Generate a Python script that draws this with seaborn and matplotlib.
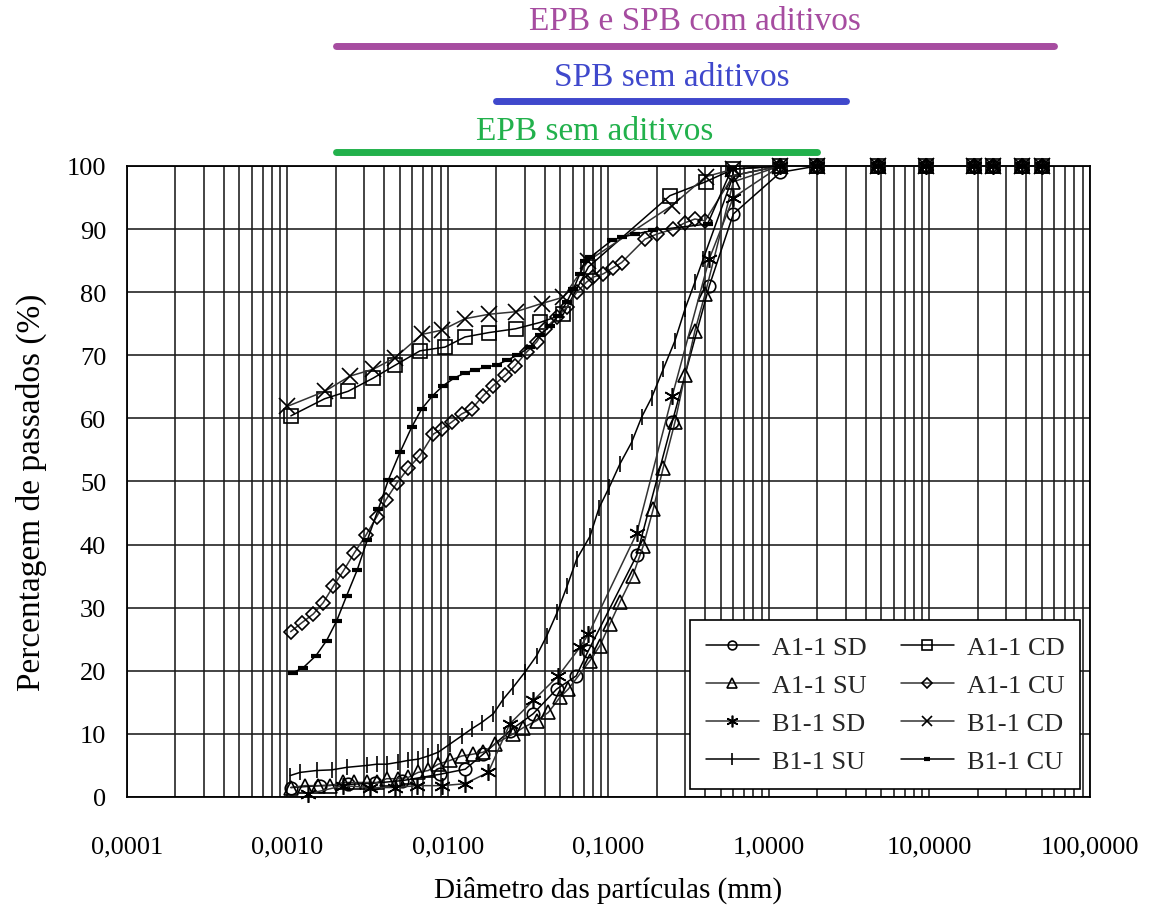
import matplotlib
matplotlib.use("Agg")
import matplotlib.pyplot as plt
import matplotlib.ticker as mticker
import matplotlib.transforms as mtransforms
import numpy as np
import pandas as pd
import seaborn as sns

# ---------------- data (diameter in mm, percentage passing) ----------------
a1_sd_d = [0.00105, 0.0016, 0.0024, 0.0035, 0.0052, 0.0089, 0.0128, 0.0166, 0.0243, 0.034,
           0.0476, 0.063, 0.075, 0.15, 0.25, 0.425, 0.6, 1.18, 2.0, 4.75, 9.5, 19.0, 25.0, 37.5, 50.0]
a1_sd_p = [1.5, 1.8, 2.0, 2.2, 2.6, 3.6, 4.4, 6.8, 10.5, 13.2,
           17.1, 19.2, 23.2, 38.3, 59.5, 81.0, 92.4, 99.0, 100, 100, 100, 100, 100, 100, 100]

a1_su_d = [0.00105, 0.00129, 0.00156, 0.00184, 0.00223, 0.0026, 0.00312, 0.0036, 0.00415, 0.0049,
           0.00566, 0.00653, 0.00754, 0.0087, 0.0103, 0.0122, 0.0144, 0.0166, 0.0196, 0.0255,
           0.0295, 0.0357, 0.0422, 0.0499, 0.0562, 0.0767, 0.0885, 0.102, 0.118, 0.1415,
           0.1647, 0.190, 0.2195, 0.2596, 0.2996, 0.3458, 0.40, 0.6, 1.18, 2.0,
           4.75, 9.5, 19.0, 25.0, 37.5, 50.0]
a1_su_p = [1.5, 1.8, 1.8, 1.8, 2.3, 2.3, 2.3, 2.3, 2.9, 2.9,
           3.1, 3.9, 4.2, 5.2, 5.8, 6.5, 6.8, 7.1, 8.4, 10.0,
           11.0, 12.1, 13.4, 15.8, 17.1, 21.6, 24.0, 27.4, 30.9, 35.0,
           39.8, 45.6, 52.2, 59.4, 66.8, 73.9, 79.7, 97.5, 100, 100,
           100, 100, 100, 100, 100, 100]

b1_sd_d = [0.00135, 0.00223, 0.00327, 0.00467, 0.00638, 0.00913, 0.01276, 0.01783, 0.0243, 0.034,
           0.0487, 0.0664, 0.075, 0.15, 0.25, 0.425, 0.6, 1.18, 2.0, 4.75, 9.5, 19.0, 25.0, 37.5, 50.0]
b1_sd_p = [0.5, 1.8, 1.5, 1.5, 1.8, 1.8, 2.1, 3.9, 11.6, 15.3,
           19.2, 23.7, 25.8, 41.8, 63.6, 85.3, 95.0, 100, 100, 100, 100, 100, 100, 100, 100]

b1_su_d = [0.00104, 0.0012, 0.00152, 0.00189, 0.00234, 0.00312, 0.0036, 0.00415, 0.0049, 0.00566,
           0.00653, 0.00754, 0.0087, 0.0103, 0.0122, 0.01405, 0.0162, 0.0192, 0.0221, 0.0255,
           0.0302, 0.0357, 0.0412, 0.048, 0.0554, 0.0634, 0.0767, 0.0873, 0.1012, 0.118,
           0.1394, 0.161, 0.1859, 0.2195, 0.2596, 0.2996, 0.3458, 0.39, 0.6, 1.18,
           2.0, 4.75, 9.5, 19.0, 25.0, 37.5, 50.0]
b1_su_p = [3.4, 3.9, 4.2, 4.3, 4.7, 5.0, 5.2, 5.2, 5.5, 5.8,
           6.0, 6.5, 7.1, 8.4, 9.7, 10.8, 11.8, 13.2, 15.5, 17.4,
           19.8, 22.4, 25.5, 29.3, 33.5, 37.7, 41.3, 45.8, 49.1, 52.8,
           56.2, 60.2, 63.3, 67.8, 72.3, 77.3, 81.6, 85.3, 98.5, 100,
           100, 100, 100, 100, 100, 100, 100]

a1_cd_d = [0.00105, 0.0017, 0.00239, 0.00343, 0.00467, 0.00669, 0.00958, 0.01276, 0.018, 0.0264,
           0.0374, 0.0523, 0.075, 0.2416, 0.4035, 0.6, 1.18, 2.0, 4.75, 9.5, 19.0, 25.0, 37.5, 50.0]
a1_cd_p = [60.4, 63.1, 64.3, 66.4, 68.4, 70.7, 71.3, 72.9, 73.6, 74.2,
           75.2, 76.5, 84.0, 95.3, 97.5, 99.5, 100, 100, 100, 100, 100, 100, 100, 100]

a1_cu_d = [0.001047, 0.001226, 0.001448, 0.001671, 0.001929, 0.002227, 0.002597, 0.003084, 0.003596, 0.004109,
           0.00479, 0.00566, 0.00669, 0.0081, 0.00913, 0.01054, 0.01217, 0.01405, 0.0166, 0.01915,
           0.02265, 0.02615, 0.0309, 0.0357, 0.0402, 0.0476, 0.0549, 0.0634, 0.0731, 0.0804,
           0.0928, 0.1071, 0.1208, 0.1688, 0.1997, 0.2533, 0.2996, 0.3458, 0.3993, 0.6,
           1.18, 2.0, 4.75, 9.5, 19.0, 25.0, 37.5, 50.0]
a1_cu_p = [26.2, 27.6, 29.0, 30.8, 33.4, 35.8, 38.6, 41.5, 44.4, 47.1,
           49.7, 52.1, 54.1, 57.5, 58.3, 59.4, 60.7, 61.5, 63.6, 65.2,
           66.8, 68.3, 70.5, 72.1, 74.2, 76.0, 77.6, 80.0, 81.6, 82.4,
           82.9, 83.9, 84.7, 88.4, 89.2, 90.0, 91.0, 91.6, 91.3, 98.5,
           100, 100, 100, 100, 100, 100, 100, 100]

b1_cd_d = [0.000997, 0.00171, 0.00245, 0.00343, 0.00467, 0.00686, 0.00921, 0.01276, 0.018, 0.0264,
           0.0383, 0.0523, 0.075, 0.2477, 0.4035, 0.6, 1.18, 2.0, 4.75, 9.5, 19.0, 25.0, 37.5, 50.0]
b1_cd_p = [61.9, 64.3, 66.7, 67.8, 69.6, 73.3, 74.0, 75.8, 76.5, 76.9,
           78.2, 79.2, 85.0, 93.7, 98.3, 99.5, 100, 100, 100, 100, 100, 100, 100, 100]

b1_cu_d = [0.001087, 0.001254, 0.001505, 0.001754, 0.002025, 0.002338, 0.002722, 0.003142, 0.003679, 0.004246,
           0.005022, 0.005939, 0.006858, 0.008029, 0.00935, 0.01095, 0.01276, 0.01473, 0.01725, 0.0202,
           0.0233, 0.027, 0.0324, 0.0374, 0.0432, 0.0487, 0.0549, 0.0604, 0.0664, 0.0714,
           0.0767, 0.1047, 0.1208, 0.1463, 0.1901, 0.4143, 0.5857, 1.18, 2.0, 4.75,
           9.5, 19.0, 25.0, 37.5, 50.0]
b1_cu_p = [19.7, 20.5, 22.4, 24.8, 27.9, 31.9, 36.0, 40.7, 45.6, 50.2,
           54.6, 58.6, 61.5, 63.6, 65.2, 66.4, 67.2, 67.7, 68.1, 68.5,
           69.2, 70.0, 71.3, 73.2, 74.6, 76.3, 78.4, 80.5, 82.9, 85.0,
           85.5, 88.2, 88.7, 89.2, 89.8, 90.8, 99.5, 100, 100, 100,
           100, 100, 100, 100, 100]

series_names = ["A1-1 SD", "A1-1 SU", "B1-1 SD", "B1-1 SU",
                "A1-1 CD", "A1-1 CU", "B1-1 CD", "B1-1 CU"]

x_tick_values = [0.0001, 0.001, 0.01, 0.1, 1, 10, 100]
x_tick_labels = ["0,0001", "0,0010", "0,0100", "0,1000", "1,0000", "10,0000", "100,0000"]
y_tick_values = [0, 10, 20, 30, 40, 50, 60, 70, 80, 90, 100]

range_labels = ["EPB e SPB com aditivos", "SPB sem aditivos", "EPB sem aditivos"]
range_start = [0.002, 0.02, 0.002]
range_end = [60.0, 3.0, 2.0]

# ---------------- styling ----------------
sns.set_style("white")
plt.rcParams["font.family"] = ["Liberation Serif", "DejaVu Serif"]

fig = plt.figure(figsize=(11.49, 9.12), dpi=100)
ax = fig.add_axes([0.1105, 0.125, 0.8381, 0.6919])

data = {
    "A1-1 SD": (a1_sd_d, a1_sd_p),
    "A1-1 SU": (a1_su_d, a1_su_p),
    "B1-1 SD": (b1_sd_d, b1_sd_p),
    "B1-1 SU": (b1_su_d, b1_su_p),
    "A1-1 CD": (a1_cd_d, a1_cd_p),
    "A1-1 CU": (a1_cu_d, a1_cu_p),
    "B1-1 CD": (b1_cd_d, b1_cd_p),
    "B1-1 CU": (b1_cu_d, b1_cu_p),
}
styles = {
    "A1-1 SD": dict(marker="o", markersize=9, color="black"),
    "A1-1 SU": dict(marker="^", markersize=10, color="#333333"),
    "B1-1 SD": dict(marker=(6, 2, 0), markersize=12, color="#333333"),
    "B1-1 SU": dict(marker="|", markersize=12, color="black"),
    "A1-1 CD": dict(marker="s", markersize=10, color="black"),
    "A1-1 CU": dict(marker="D", markersize=7.5, color="#333333"),
    "B1-1 CD": dict(marker="x", markersize=11, color="#333333"),
    "B1-1 CU": dict(marker="_", markersize=7, color="black"),
}

for name in series_names:
    d, p = data[name]
    st = styles[name]
    df = pd.DataFrame({"d": d, "p": p})
    mew = 3.0 if st["marker"] == "_" else 1.2
    sns.lineplot(data=df, x="d", y="p", ax=ax, estimator=None, sort=False,
                 marker=st["marker"], markersize=st["markersize"],
                 color=st["color"], linewidth=1.1, mfc="none", mec="black",
                 mew=mew, label=name, zorder=3, clip_on=False)

ax.set_xscale("log")
ax.set_xlim(0.0001, 100)
ax.set_ylim(0, 100)

ax.xaxis.set_major_locator(mticker.FixedLocator(x_tick_values))
ax.xaxis.set_major_formatter(mticker.FixedFormatter(x_tick_labels))
ax.xaxis.set_minor_locator(mticker.LogLocator(base=10, subs=np.arange(2, 10), numticks=100))
ax.xaxis.set_minor_formatter(mticker.NullFormatter())
ax.yaxis.set_major_locator(mticker.FixedLocator(y_tick_values))
ax.yaxis.set_minor_locator(mticker.MultipleLocator(2))

ax.xaxis.grid(True, which="both", color="#1a1a1a", linewidth=1.15)
ax.yaxis.grid(True, which="major", color="#1a1a1a", linewidth=1.15)
ax.set_axisbelow(True)

for s in ax.spines.values():
    s.set_color("black")
    s.set_linewidth(1.3)

ax.tick_params(axis="both", which="major", direction="out", length=7, width=1.1,
               color="black", labelsize=19, labelcolor="black")
ax.tick_params(axis="x", which="major", pad=21)
ax.tick_params(axis="y", which="major", pad=8)
ax.tick_params(axis="both", which="minor", direction="in", length=5, width=1.0, color="black")

ax.set_xlabel("Diâmetro das partículas (mm)", fontsize=21, color="black")
ax.set_ylabel("Percentagem de passados (%)", fontsize=24, color="black")
ax.xaxis.set_label_coords(0.5, -0.125)
ax.yaxis.set_label_coords(-0.083, 0.485)

leg = ax.legend(loc="lower right", bbox_to_anchor=(0.99, 0.013), ncol=2, fontsize=19,
                frameon=True, fancybox=False, framealpha=1, edgecolor="black",
                handlelength=2.0, labelspacing=0.55, columnspacing=1.3,
                borderpad=0.6, handletextpad=0.5, markerscale=0.7, borderaxespad=0)
leg.get_frame().set_linewidth(1.2)
leg.set_zorder(5)

# ---------------- application ranges above the chart ----------------
trans = mtransforms.blended_transform_factory(ax.transData, ax.transAxes)
range_colors = ["#a64ca0", "#3f48cc", "#22b14c"]
bar_y = [1.190, 1.103, 1.022]
text_y = [1.230, 1.141, 1.056]
text_x = [0.346, 0.249, 0.0824]
for lbl, x0, x1, c, by, tx, ty in zip(range_labels, range_start, range_end, range_colors,
                                       bar_y, text_x, text_y):
    ax.plot([x0, x1], [by, by], transform=trans, color=c, linewidth=5,
            solid_capstyle="round", clip_on=False)
    ax.text(tx, ty, lbl, transform=trans, color=c, fontsize=24, ha="center", va="center")

fig.savefig("out.png", dpi=100)
